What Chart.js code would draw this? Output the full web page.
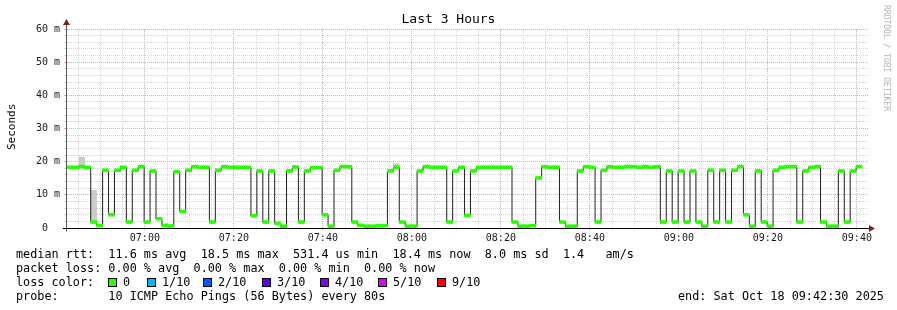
<!DOCTYPE html>
<html><head><meta charset="utf-8">
<script src="https://cdn.jsdelivr.net/npm/chart.js@4/dist/chart.umd.min.js"></script>
<style>
body{margin:0;background:#fff;}
#wrap{position:relative;width:897px;height:310px;overflow:hidden;background:#fff;}
canvas{position:absolute;left:0;top:0;}
.t{position:absolute;font-family:'DejaVu Sans Mono',monospace;white-space:pre;color:#000;font-weight:normal;}
.leg{font-size:11.8px;line-height:14px;left:16px;}
.box{position:absolute;width:7px;height:7px;border:1px solid #000;}
</style></head><body>
<div id="wrap">
<canvas id="c" width="897" height="310"></canvas>
<div class="t" style="left:0;width:897px;text-align:center;top:11px;font-size:13px;line-height:16px;">Last 3 Hours</div>
<div class="t" style="left:5px;top:150px;font-size:11px;line-height:13px;transform-origin:0 0;transform:rotate(-90deg);">Seconds</div>
<div class="t" style="left:891px;top:5px;font-size:8px;line-height:9px;color:#b4b4b4;transform-origin:0 0;transform:rotate(90deg);">RRDTOOL / TOBI OETIKER</div>
<div class="t leg" style="top:247px;">median rtt:  11.6 ms avg  18.5 ms max  531.4 us min  18.4 ms now  8.0 ms sd  1.4   am/s</div>
<div class="t leg" style="top:261px;">packet loss: 0.00 % avg  0.00 % max  0.00 % min  0.00 % now</div>
<div class="t leg" style="top:275px;" id="lossline">loss color:</div>
<div class="t leg" style="top:289px;">probe:       10 ICMP Echo Pings (56 Bytes) every 80s</div>
<div class="t leg" style="top:289px;left:678px;">end: Sat Oct 18 09:42:30 2025</div>
</div>
<script>
// ---- data ----
const startTime = '06:42:30';
const endTime = '09:42:30';
const stepSeconds = 80;
const medianMs = [
  18.3, 18.3, 18.5, 18.3, 1.8, 0.7, 17.4, 4.0, 17.4, 18.3,
  1.8, 17.4, 18.5, 1.8, 17.2, 2.8, 0.8, 0.6, 17.0, 5.0,
  17.4, 18.5, 18.3, 18.3, 1.8, 17.4, 18.5, 18.3, 18.3, 18.3,
  18.3, 3.7, 17.2, 1.8, 17.2, 1.4, 0.55, 17.2, 18.4, 1.8,
  17.2, 18.2, 18.2, 4.0, 0.55, 17.4, 18.5, 18.5, 1.8, 0.8,
  0.55, 0.55, 0.7, 0.7, 17.2, 18.3, 1.8, 0.55, 0.55, 17.2,
  18.5, 18.3, 18.3, 18.3, 1.8, 17.2, 18.3, 3.8, 17.2, 18.3,
  18.3, 18.3, 18.3, 18.3, 18.3, 1.8, 0.55, 0.55, 0.7, 15.1,
  18.5, 18.3, 18.3, 1.8, 0.55, 0.55, 17.2, 18.5, 18.3, 1.8,
  17.4, 18.5, 18.3, 18.3, 18.5, 18.5, 18.3, 18.5, 18.3, 18.5,
  1.8, 17.2, 1.8, 17.2, 1.8, 17.2, 1.8, 0.55, 17.4, 1.8,
  17.4, 1.8, 17.4, 18.5, 4.0, 0.55, 17.2, 1.8, 0.55, 17.4,
  18.3, 18.5, 18.5, 1.8, 17.2, 18.3, 18.5, 1.8, 0.55, 0.55,
  17.2, 1.8, 17.2, 18.5
];
const smokeIndex = [2, 4, 55];
const smokeLow = [18.5, 1.8, 18.3];
const smokeHigh = [21.4, 11.4, 19.4];
const xTickLabels = ['07:00','07:20','07:40','08:00','08:20','08:40','09:00','09:20','09:40'];
const yTickLabels = ['0  ','10 m','20 m','30 m','40 m','50 m','60 m'];
const lossLabels = ['0','1/10','2/10','3/10','4/10','5/10','9/10'];
const lossColors = ['#26ff00','#00b8ff','#0059ff','#5e00ff','#7e00ff','#dd00ff','#ff0000'];
const lossBoxX = [108, 147, 203, 262, 320, 378, 437];

// ---- legend ----
const wrap = document.getElementById('wrap');
lossLabels.forEach((lab, k) => {
  const b = document.createElement('div');
  b.className = 'box';
  b.style.left = lossBoxX[k] + 'px';
  b.style.top = '278px';
  b.style.background = lossColors[k];
  wrap.appendChild(b);
  const t = document.createElement('div');
  t.className = 't leg';
  t.style.left = (lossBoxX[k] + 15) + 'px';
  t.style.top = '275px';
  t.textContent = lab;
  wrap.appendChild(t);
});

// ---- chart ----
function toMin(s){const p=s.split(':').map(Number);return p[0]*60+p[1]+(p[2]||0)/60;}
const t0 = toMin(startTime), t1 = toMin(endTime), stepMin = stepSeconds/60;
const starts = medianMs.map((v,i)=> t0 + i*stepMin);
const lineData = medianMs.map((v,i)=>({x: starts[i], y: v}));
lineData.push({x: starts[starts.length-1] + stepMin, y: medianMs[medianMs.length-1]});
const bandHalf = 0.45;
const bandData = medianMs.map((v,i)=>({x: starts[i] + stepMin/2, y: [v - bandHalf, v + bandHalf]}));
const smokeData = smokeIndex.map((idx,k)=>({x: starts[idx] + stepMin/2, y: [smokeLow[k], smokeHigh[k]]}));

const RED = '#f4a0a0';
const GREY = '#d6d6d6';
const majorX = v => Math.abs(v / 20 - Math.round(v / 20)) < 1e-6;
const majorY = v => Math.abs(v / 10 - Math.round(v / 10)) < 1e-6;
const gridX = c => (c && c.tick && majorX(c.tick.value)) ? RED : GREY;
const gridY = c => (c && c.tick && majorY(c.tick.value)) ? RED : GREY;

const axisDecor = {
  id: 'axisDecor',
  afterDraw(chart){
    const {ctx, chartArea: a} = chart;
    const yb = Math.round(chart.scales.y.getPixelForValue(0)) + 0.5;
    const xa = Math.round(a.left) - 0.5;
    ctx.save();
    ctx.lineWidth = 1;
    ctx.strokeStyle = '#555555';
    ctx.beginPath();
    ctx.moveTo(xa, yb + 3);
    ctx.lineTo(xa, a.top - 4);
    ctx.stroke();
    ctx.strokeStyle = '#000000';
    ctx.beginPath();
    ctx.moveTo(a.left - 4, yb);
    ctx.lineTo(a.right + 1, yb);
    ctx.stroke();
    ctx.fillStyle = '#7f1f1f';
    ctx.beginPath();
    ctx.moveTo(a.right + 1, yb - 3.5);
    ctx.lineTo(a.right + 7, yb);
    ctx.lineTo(a.right + 1, yb + 3.5);
    ctx.closePath(); ctx.fill();
    ctx.beginPath();
    ctx.moveTo(xa - 3.5, a.top - 4);
    ctx.lineTo(xa, a.top - 10);
    ctx.lineTo(xa + 3.5, a.top - 4);
    ctx.closePath(); ctx.fill();
    ctx.restore();
  }
};

new Chart(document.getElementById('c'), {
  type: 'bar',
  data: {
    datasets: [
      { type: 'bar', label: 'median', data: bandData, backgroundColor: lossColors[0], borderWidth: 0,
        barPercentage: 1, categoryPercentage: 1, grouped: false },
      { type: 'line', label: 'line', data: lineData, stepped: 'before', borderColor: '#202020',
        borderWidth: 1, pointRadius: 0, fill: false, tension: 0 },
      { type: 'bar', label: 'smoke', data: smokeData, backgroundColor: '#cccccc', borderWidth: 0,
        barPercentage: 1, categoryPercentage: 1, grouped: false }
    ]
  },
  options: {
    responsive: false,
    animation: false,
    devicePixelRatio: 1,
    layout: { padding: { left: 0, right: 29, top: 29, bottom: 0 } },
    plugins: { legend: { display: false }, tooltip: { enabled: false }, title: { display: false } },
    scales: {
      x: {
        type: 'linear', min: t0, max: t1, offset: false,
        afterFit: s => { s.height = 82; },
        afterBuildTicks: s => {
          const ticks = [];
          for (let v = Math.ceil(t0/5)*5; v <= t1; v += 5) ticks.push({value: v});
          s.ticks = ticks;
        },
        ticks: {
          autoSkip: false, maxRotation: 0, minRotation: 0, padding: 2,
          font: { family: 'DejaVu Sans Mono', size: 10 }, color: '#1a1a1a',
          callback: v => (majorX(v) ? xTickLabels[Math.round((v - 420) / 20)] : '')
        },
        grid: { offset: false, color: gridX, tickColor: gridX, lineWidth: 1, drawTicks: true, tickLength: 2 },
        border: { display: false, color: '#000', dash: [1, 1] }
      },
      y: {
        type: 'linear', min: 0, max: 60,
        afterFit: s => { s.width = 67; },
        ticks: {
          stepSize: 2, autoSkip: false, padding: 4,
          font: { family: 'DejaVu Sans Mono', size: 10 }, color: '#1a1a1a',
          callback: v => (majorY(v) ? yTickLabels[Math.round(v / 10)] : '')
        },
        grid: { offset: false, color: gridY, tickColor: gridY, lineWidth: 1, drawTicks: true, tickLength: 3 },
        border: { display: false, color: '#555', dash: [1, 1] }
      }
    }
  },
  plugins: [axisDecor]
});
</script>
</body></html>
